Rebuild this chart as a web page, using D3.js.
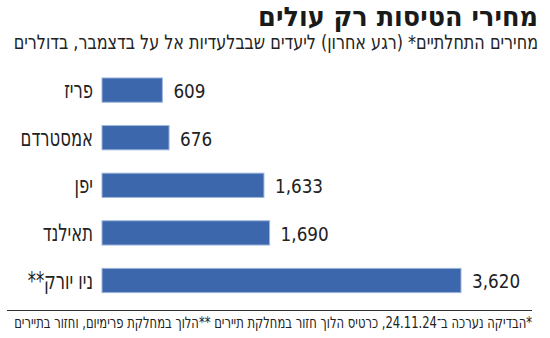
<!DOCTYPE html>
<html lang="he">
<head>
<meta charset="utf-8">
<script src="https://cdn.jsdelivr.net/npm/d3@7"></script>
<style>
  body { margin: 0; background: #fff; }
  svg text { font-family: "DejaVu Sans Condensed", "DejaVu Sans", sans-serif; }
</style>
</head>
<body>
<svg id="chart"></svg>
<script>
// Flight prices, last minute, El Al exclusive destinations (Dec)

const title = "מחירי הטיסות רק עולים";
const subtitle = "מחירים התחלתיים* (רגע אחרון) ליעדים שבבלעדיות אל על בדצמבר, בדולרים";
const footnote = "*הבדיקה נערכה ב־24.11.24, כרטיס הלוך חזור במחלקת תיירים **הלוך במחלקת פרימיום, וחזור בתיירים";

const cities = ["פריז", "אמסטרדם", "יפן", "תאילנד", "ניו יורק**"];
const prices = [609, 676, 1633, 1690, 3620];

const width = 550, height = 338;

const svg = d3.select("#chart")
    .attr("width", width)
    .attr("height", height);

const x = d3.scaleLinear()
    .domain([0, d3.max(prices)])
    .range([102, 461]);

const y = d3.scaleBand()
    .domain(cities)
    .range([66.3, 304.3])
    .paddingInner(0.49)
    .paddingOuter(0.245);

const fmt = d3.format(",");

// right-anchored rtl text squeezed horizontally to a given width
function fitText(str, right, base, size, w, opts = {}) {
    const t = svg.append("text")
        .attr("direction", "rtl")
        .attr("text-anchor", "start")
        .attr("font-size", size)
        .attr("font-weight", opts.bold ? "bold" : null)
        .attr("fill", opts.fill || "#222")
        .text(str);
    const natural = t.node().getComputedTextLength();
    t.attr("transform", `translate(${right},${base}) scale(${w / natural},1)`);
    return t;
}

// header
fitText(title, 538, 26, 27, 280, { bold: true, fill: "#1a1a1a" });
fitText(subtitle, 538, 49, 20, 525);

// bars
svg.selectAll("rect.bar")
    .data(prices)
    .enter().append("rect")
    .attr("class", "bar")
    .attr("x", x(0))
    .attr("y", (d, i) => y(cities[i]))
    .attr("width", d => x(d) - x(0))
    .attr("height", y.bandwidth())
    .attr("fill", "#3c67ad")
    .attr("stroke", "#9db6dc")
    .attr("stroke-width", 1);

// city names, narrowed to look like the condensed face of the original
svg.selectAll("text.city")
    .data(cities)
    .enter().append("text")
    .attr("class", "city")
    .attr("transform", d => `translate(93,${y(d) + y.bandwidth() / 2 + 8}) scale(0.76,1)`)
    .attr("direction", "rtl")
    .attr("text-anchor", "start")
    .attr("font-size", 24)
    .attr("fill", "#222")
    .text(d => d);

// values
svg.selectAll("text.value")
    .data(prices)
    .enter().append("text")
    .attr("class", "value")
    .attr("x", d => x(d) + 11)
    .attr("y", (d, i) => y(cities[i]) + y.bandwidth() / 2 + 7.8)
    .attr("font-family", "Roboto, sans-serif")
    .attr("font-size", 18.7)
    .attr("fill", "#222")
    .text(d => fmt(d));

// footnote
svg.append("line")
    .attr("x1", 7).attr("x2", 532)
    .attr("y1", 310.5).attr("y2", 310.5)
    .attr("stroke", "#333")
    .attr("stroke-width", 1);

fitText(footnote, 532, 328, 16, 518);
</script>
</body>
</html>
